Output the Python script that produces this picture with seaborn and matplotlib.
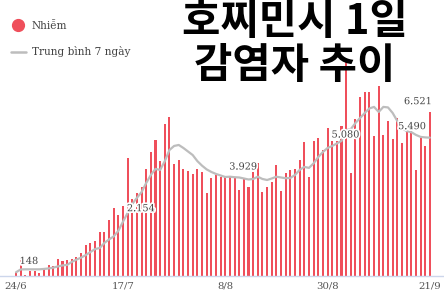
import numpy as np
import pandas as pd
import matplotlib
matplotlib.use("Agg")
import matplotlib.pyplot as plt
import matplotlib.patheffects as pe
from matplotlib.lines import Line2D
import seaborn as sns

# ---- data ----
dates = pd.date_range("2021-06-24", "2021-09-21").strftime("%-d/%-m").tolist()
cases = [148, 700, 40, 190, 190, 110, 300, 440, 400, 690,
         580, 630, 690, 770, 900, 1230, 1310, 1370, 1760, 1760,
         2220, 2690, 2410, 2770, 4690, 3050, 3280, 3540, 4230, 4910,
         5400, 4560, 6020, 6320, 4430, 4590, 4260, 4150, 4050, 4260,
         4140, 3290, 3880, 4010, 3920, 3920, 3940, 3880, 3410, 3840,
         3520, 4140, 4500, 3320, 3530, 3730, 4400, 3360, 4080, 4210,
         4230, 4600, 5300, 3940, 5360, 5460, 5000, 5860, 5360, 5360,
         5960, 8500, 4075, 6220, 7100, 7290, 7290, 5560, 7540, 5600,
         6150, 5440, 6260, 5290, 5730, 5750, 4210, 5460, 5160, 6521]
avg7 = [148, 260, 265, 265, 265, 265, 280, 300, 330, 380,
        420, 440, 560, 650, 730, 830, 950, 1070, 1110, 1310,
        1450, 1570, 1790, 2154, 2500, 2860, 3100, 3330, 3690, 4010,
        4250, 4210, 4560, 5000, 5160, 5200, 5080, 4940, 4800, 4560,
        4380, 4230, 4130, 4050, 3990, 3929, 3940, 3920, 3910, 3870,
        3830, 3850, 3940, 3850, 3810, 3870, 3940, 3910, 3880, 3890,
        4010, 4210, 4330, 4290, 4470, 4720, 4920, 5080, 5160, 5260,
        5360, 5790, 5830, 6070, 6270, 6470, 6650, 6710, 6510, 6710,
        6690, 6470, 6150, 5870, 5750, 5710, 5600, 5520, 5500, 5490]
tick_labels = ["24/6", "17/7", "8/8", "30/8", "21/9"]
label_texts = ["148", "2.154", "3.929", "5.080", "5.490", "6.521"]
title_lines = ["호찌민시 1일", "감염자 추이"]
legend_labels = ["Nhiễm", "Trung bình 7 ngày"]

df = pd.DataFrame({"day": np.arange(len(cases)), "date": dates,
                   "cases": cases, "avg7": avg7})

sns.set_theme(style="white")
plt.rcParams["font.family"] = ["DejaVu Serif"]

RED = "#ef4f5b"
GREY = "#bdbdbd"
TXT = "#444444"

fig = plt.figure(figsize=(4.44, 3.02), dpi=100)
ax = fig.add_axes([0, 26 / 302, 1, 276 / 302])

sns.barplot(data=df, x="day", y="cases", color=RED, width=0.45,
            saturation=1, ax=ax, native_scale=True, edgecolor="none")
sns.lineplot(data=df, x="day", y="avg7", color=GREY, linewidth=1.6, ax=ax)

ax.set_xlim(-16 / 4.65, (444 - 16) / 4.65)
ax.set_ylim(0, 276 / 0.0252)
ax.set_xlabel("")
ax.set_ylabel("")
ax.set_yticks([])
tick_idx = [dates.index(t) for t in tick_labels]
ax.set_xticks(tick_idx, tick_labels)
ax.tick_params(axis="x", length=0, pad=4, labelsize=7.3, labelcolor="#555555")
for s in ["left", "top", "right"]:
    ax.spines[s].set_visible(False)
ax.spines["bottom"].set_color("#ccd6eb")
ax.spines["bottom"].set_linewidth(1)

# value labels
halo = [pe.withStroke(linewidth=2.5, foreground="white")]
specs = [  # (text, index, series, ha, dx, dy)
    (label_texts[0], 1, avg7, "left", -1, 8),
    (label_texts[1], 23, avg7, "left", 4, 13),
    (label_texts[2], 45, avg7, "left", 4, 10),
    (label_texts[3], 67, avg7, "left", 4, 13),
    (label_texts[4], 89, avg7, "right", -4, 11),
    (label_texts[5], 89, cases, "right", 2, 10),
]
for txt, i, ser, ha, dx, dy in specs:
    ax.annotate(txt, (i, ser[i]), xytext=(dx, dy), textcoords="offset pixels",
                ha=ha, va="center", fontsize=7, color=TXT, path_effects=halo)

# legend
handles = [Line2D([], [], marker="o", linestyle="none", markersize=8.5,
                  color=RED),
           Line2D([], [], color=GREY, linewidth=1.8)]
fig.legend(handles, legend_labels, loc="upper left",
           bbox_to_anchor=(11 / 444, 1 - 21 / 302), frameon=False,
           fontsize=7.6, labelcolor=TXT, handlelength=1.4, handletextpad=0.55,
           labelspacing=1.45, borderpad=0, borderaxespad=0)

# title
for k, line in enumerate(title_lines):
    fig.text(295 / 444, 1 - (22 + 44 * k) / 302, line, ha="center", va="center",
             fontsize=30, fontweight="heavy", color="black",
             family=["Noto Sans CJK KR", "DejaVu Sans"])

fig.savefig("out.png", dpi=100)
